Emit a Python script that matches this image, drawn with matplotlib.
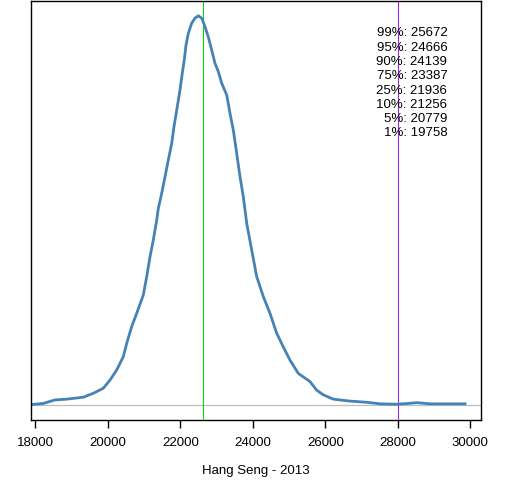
import matplotlib
matplotlib.use("Agg")
import matplotlib.pyplot as plt

# density curve of Hang Seng index (relative density)
index_values = [17881, 18221, 18543, 18866, 19324, 19600, 19876, 20061, 20246, 20428,
                20521, 20659, 20797, 20979, 21073, 21164, 21255, 21349, 21393, 21487,
                21578, 21669, 21763, 21826, 21901, 21992, 22055, 22110, 22157, 22221,
                22314, 22406, 22497, 22590, 22681, 22772, 22866, 22957, 23048, 23142,
                23280, 23371, 23462, 23556, 23647, 23738, 23832, 23970, 24108, 24290,
                24474, 24659, 24841, 25026, 25255, 25578, 25763, 25945, 26221, 26681,
                27142, 27509, 27970, 28290, 28521, 28888, 29349, 29807, 29854]
density = [0.001, 0.004, 0.013, 0.015, 0.020, 0.030, 0.043, 0.064, 0.090, 0.124,
           0.158, 0.201, 0.235, 0.282, 0.329, 0.380, 0.423, 0.474, 0.504, 0.543,
           0.585, 0.628, 0.671, 0.714, 0.756, 0.808, 0.851, 0.885, 0.923, 0.953,
           0.979, 0.992, 0.998, 0.992, 0.970, 0.944, 0.910, 0.876, 0.855, 0.825,
           0.795, 0.748, 0.705, 0.645, 0.585, 0.534, 0.466, 0.397, 0.329, 0.278,
           0.235, 0.184, 0.149, 0.115, 0.081, 0.060, 0.038, 0.026, 0.015, 0.010,
           0.007, 0.003, 0.002, 0.004, 0.006, 0.003, 0.003, 0.003, 0.003]

quantile_labels = ["99%", "95%", "90%", "75%", "25%", "10%", "5%", "1%"]
quantile_values = [25672, 24666, 24139, 23387, 21936, 21256, 20779, 19758]

current_level = 22634
target_level = 28000
xticks = [18000, 20000, 22000, 24000, 26000, 28000, 30000]
xlabel = "Hang Seng - 2013"

plt.rcParams['font.family'] = ['Liberation Sans', 'DejaVu Sans']

W, H = 512, 480
fig = plt.figure(figsize=(W / 100, H / 100), dpi=100)
ax = fig.add_axes([30.7 / W, 1 - 420 / H, (481 - 30.7) / W, (420 - 1) / H])

ax.axhline(0, color="#BEBEBE", lw=0.9, zorder=1)
ax.axvline(current_level, color="#00DD00", lw=0.75, zorder=1)
ax.axvline(target_level, color="#A020F0", lw=0.75, zorder=1)
ax.plot(index_values, density, color="#4682B4", lw=2.0, zorder=2)

ax.set_xlim(17873, 30295)
ax.set_ylim(-15 / 390, 1 + 14 / 390)
ax.set_yticks([])
ax.set_xticks(xticks)
ax.set_xticklabels([str(t) for t in xticks], fontsize=9.5)
ax.tick_params(axis="x", length=5.5, width=1.0, pad=7)
for s in ax.spines.values():
    s.set_linewidth(1.0)
    s.set_color("black")

fig.text(255.9 / W, 1 - 470.7 / H, xlabel, ha="center", va="center", fontsize=9.5)

for i, (lab, val) in enumerate(zip(quantile_labels, quantile_values)):
    y = 33.3 + i * 14.3
    fig.text(447.3 / W, 1 - y / H, f"{lab}: {val}", ha="right", va="center", fontsize=9.5)

fig.savefig("out.png", dpi=100, facecolor="white")
